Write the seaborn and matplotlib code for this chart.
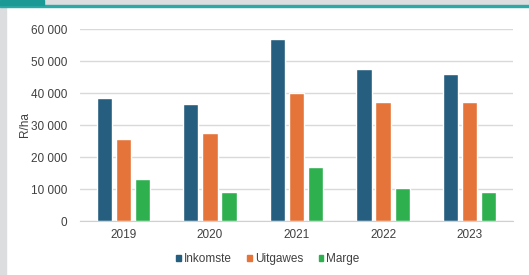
import pandas as pd
import matplotlib.pyplot as plt
import seaborn as sns
from matplotlib.patches import Rectangle

# ---- Données (R/ha) ----
years = ["2019", "2020", "2021", "2022", "2023"]
inkomste = [38500, 36500, 57000, 47500, 46000]
uitgawes = [25700, 27500, 40000, 37200, 37200]
marge = [13000, 9000, 17000, 10200, 9200]
series_names = ["Inkomste", "Uitgawes", "Marge"]
colors = ["#255e7e", "#e5743a", "#2eb04f"]

df = pd.DataFrame({
    "Jaar": years * 3,
    "Waarde": inkomste + uitgawes + marge,
    "Reeks": [s for s in series_names for _ in years],
})

sns.set_style("white")
plt.rcParams["font.family"] = ["Liberation Sans", "DejaVu Sans"]

fig = plt.figure(figsize=(5.29, 2.75), dpi=100)
fig.patch.set_facecolor("white")

# cadre gris de la page
W, H = 529, 275
fig.patches.append(Rectangle((0, 0), 6 / W, 1, transform=fig.transFigure,
                             color="#dcdddf", zorder=0))
fig.patches.append(Rectangle((0, 1 - 5 / H), 1, 5 / H, transform=fig.transFigure,
                             color="#dcdddf", zorder=0))
fig.patches.append(Rectangle((0, 1 - 7 / H), 1, 2 / H, transform=fig.transFigure,
                             color="#2aa9a6", zorder=1))
fig.patches.append(Rectangle((0, 1 - 5 / H), 44 / W, 5 / H, transform=fig.transFigure,
                             color="#1b9a95", zorder=1))

ax = fig.add_axes([80 / W, 54 / H, 433 / W, 192 / H])
sns.barplot(data=df, x="Jaar", y="Waarde", hue="Reeks", palette=colors,
            width=0.66, gap=0.2, ax=ax, legend=False, saturation=1)

ax.set_ylim(0, 60000)
ax.set_xlim(-0.5, 4.5)
ax.set_yticks(range(0, 60001, 10000))
ax.set_yticklabels([f"{v:,}".replace(",", " ") for v in range(0, 60001, 10000)])
ax.grid(axis="y", color="#d9d9d9", linewidth=1)
ax.set_axisbelow(True)
for s in ["top", "right", "left"]:
    ax.spines[s].set_visible(False)
ax.spines["bottom"].set_color("#d0d0d0")
ax.tick_params(axis="both", length=0, labelsize=8.5, labelcolor="#404040")
ax.tick_params(axis="y", pad=9)
ax.tick_params(axis="x", pad=6)
ax.set_xlabel("")
ax.set_ylabel("R/ha", fontsize=8.5, color="#404040", labelpad=0)

handles = [Rectangle((0, 0), 1, 1, color=c) for c in colors]
fig.legend(handles, series_names, loc="center", bbox_to_anchor=(268 / W, 1 - 259 / H),
           ncol=3, frameon=False, fontsize=8.5, handlelength=0.4, handleheight=0.4,
           handletextpad=0.25, columnspacing=1.3, labelcolor="#404040")

plt.savefig("out.png", dpi=100)
plt.close()
